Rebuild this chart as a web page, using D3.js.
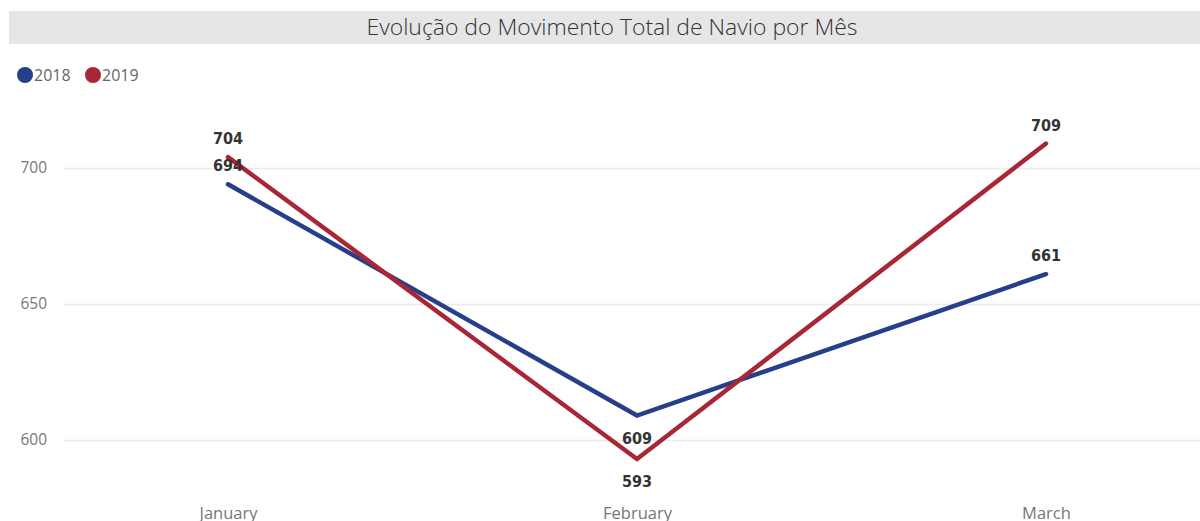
<!DOCTYPE html>
<html><head><meta charset="utf-8">
<script src="https://cdn.jsdelivr.net/npm/d3@7"></script>
<style>body{margin:0;background:#fff;}svg{display:block;}</style>
</head><body>
<svg id="chart" width="1200" height="521"></svg>
<script>
const title = "Evolução do Movimento Total de Navio por Mês";
const months = ["January", "February", "March"];
const seriesNames = ["2018", "2019"];
const values2018 = [694, 609, 661];
const values2019 = [704, 593, 709];
const yTicks = [600, 650, 700];
const colors = ["#253F8A", "#A82635"];
const labelBelow = [false, true, false];

const svg = d3.select("#chart");
const W = 1200, H = 521;

// title bar
svg.append("rect").attr("x", 9).attr("y", 11).attr("width", W - 9).attr("height", 33).attr("fill", "#e6e6e6");
svg.append("text").attr("x", 612).attr("y", 35).attr("text-anchor", "middle")
  .attr("font-family", "Open Sans, sans-serif").attr("font-weight", 300).attr("font-size", 21.5)
  .attr("fill", "#333").attr("textLength", 491).attr("lengthAdjust", "spacingAndGlyphs").text(title);

// legend
const leg = svg.append("g");
let lx = 25;
seriesNames.forEach((n, i) => {
  leg.append("circle").attr("cx", lx).attr("cy", 75).attr("r", 8).attr("fill", colors[i]);
  leg.append("text").attr("x", lx + 9).attr("y", 81).attr("font-family", "Open Sans, sans-serif")
    .attr("font-size", 16).attr("fill", "#666").text(n);
  lx += 68;
});

const x = d3.scalePoint().domain(months).range([228, 1046]);
const y = d3.scaleLinear().domain([600, 700]).range([440, 168]);

// gridlines
const grid = d3.axisLeft(y).tickValues(yTicks).tickSize(-(W - 63)).tickFormat("");
svg.append("g").attr("transform", "translate(63,0)").call(grid)
  .call(g => g.select(".domain").remove())
  .call(g => g.selectAll("line").attr("stroke", "#ebebeb").attr("stroke-width", 1.5));

// y labels
const yAx = d3.axisLeft(y).tickValues(yTicks).tickSize(0).tickPadding(0);
svg.append("g").attr("transform", "translate(47,0)").call(yAx)
  .call(g => g.select(".domain").remove())
  .call(g => g.selectAll("text").attr("font-family", "Open Sans, sans-serif").attr("font-size", 15.5).attr("fill", "#777"));

// x labels
const xAx = d3.axisBottom(x).tickSize(0).tickPadding(0);
svg.append("g").attr("transform", "translate(0,507)").call(xAx)
  .call(g => g.select(".domain").remove())
  .call(g => g.selectAll("text").attr("font-family", "Open Sans, sans-serif").attr("font-size", 16.5).attr("fill", "#777"));

const line = d3.line().x((d, i) => x(months[i])).y(d => y(d));
const allSeries = [values2018, values2019];
allSeries.forEach((vals, si) => {
  svg.append("path").datum(vals).attr("d", line).attr("fill", "none")
    .attr("stroke", colors[si]).attr("stroke-width", 4.5).attr("stroke-linejoin", "miter").attr("stroke-linecap", "round");
});

// data labels
allSeries.forEach((vals, si) => {
  vals.forEach((v, i) => {
    const below = labelBelow[i];
    svg.append("text").attr("x", x(months[i])).attr("y", y(v) + (below ? 28 : -13))
      .attr("text-anchor", "middle").attr("font-family", "DejaVu Sans Condensed, Roboto, sans-serif")
      .attr("font-weight", 600).attr("font-size", 16).attr("fill", "#333").text(v);
  });
});
</script>
</body></html>
